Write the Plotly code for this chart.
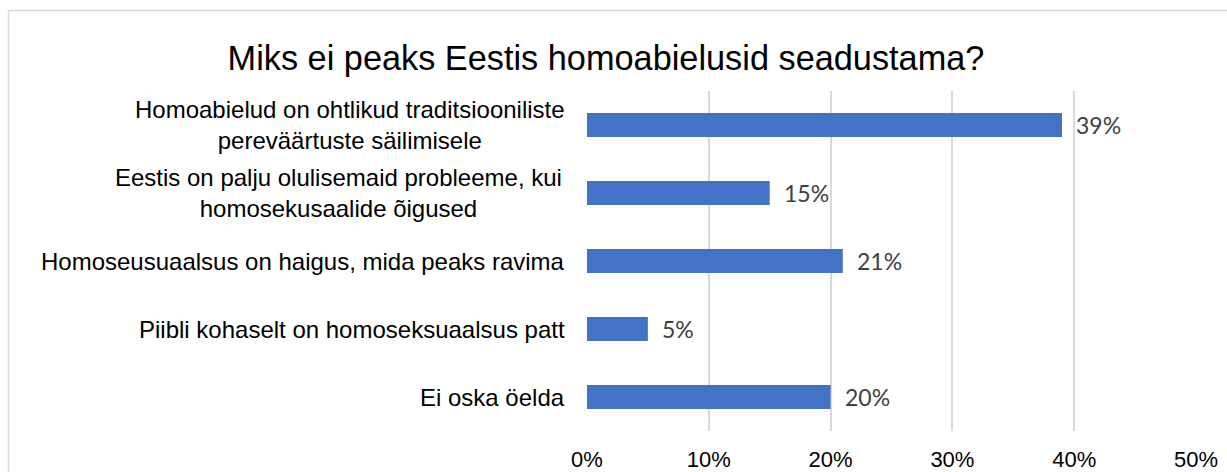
import plotly.graph_objects as go

categories = [
    "Homoabielud on ohtlikud traditsiooniliste<br>pereväärtuste säilimisele",
    "Eestis on palju olulisemaid probleeme, kui<br>homosekusaalide õigused",
    "Homoseusuaalsus on haigus, mida peaks ravima",
    "Piibli kohaselt on homoseksuaalsus patt",
    "Ei oska öelda",
]
values = [0.39, 0.15, 0.21, 0.05, 0.20]
value_labels = ["39%", "15%", "21%", "5%", "20%"]
tick_vals = [0, 0.1, 0.2, 0.3, 0.4, 0.5]
tick_text = ["0%", "10%", "20%", "30%", "40%", "50%"]
title_text = "Miks ei peaks Eestis homoabielusid seadustama?"

# layout: right edge (px) of each category label block
label_right_px = [566, 563, 566, 566, 566]

W, H = 1227, 472
ml, mr, mt, mb = 587, 31, 91, 41
pw = W - ml - mr
ph = H - mt - mb

fig = go.Figure()
fig.add_trace(go.Bar(
    x=values, y=categories, orientation="h",
    marker=dict(color="#4472C4", line=dict(width=0)),
    width=0.35, hoverinfo="skip",
))

label_font = dict(family="Liberation Sans, Arial, sans-serif", size=24, color="#000000")
annotations = []
for k, (c, v, t) in enumerate(zip(categories, values, value_labels)):
    annotations.append(dict(
        x=v, y=c, xref="x", yref="y", text=t, showarrow=False,
        xanchor="left", yanchor="middle", xshift=12,
        font=dict(family="Lato, sans-serif", size=23, color="#404040"),
    ))
    annotations.append(dict(
        x=(label_right_px[k] - ml) / pw, y=c, xref="paper", yref="y", text=c,
        showarrow=False, xanchor="right", yanchor="middle", align="center",
        borderpad=0, font=label_font,
    ))

fig.update_layout(
    width=W, height=H,
    margin=dict(l=ml, r=mr, t=mt, b=mb, autoexpand=False),
    paper_bgcolor="white", plot_bgcolor="white",
    showlegend=False,
    title=dict(
        text=title_text, x=606 / W, xanchor="center", y=1 - 57.5 / H, yanchor="middle",
        font=dict(family="Liberation Sans, Arial, sans-serif", size=34.3, color="#000000"),
    ),
    xaxis=dict(
        range=[0, 0.5], tickvals=tick_vals, ticktext=tick_text,
        showgrid=True, gridcolor="#d9d9d9", gridwidth=1.5,
        zeroline=False, showline=False, ticks="", ticklabelstandoff=13,
        tickfont=dict(family="Liberation Sans, Arial, sans-serif", size=22, color="#000000"),
        fixedrange=True, automargin=False,
    ),
    yaxis=dict(
        showticklabels=False, showgrid=False,
        zeroline=False, showline=False, ticks="", fixedrange=True,
        range=[4.5, -0.5], automargin=False,
    ),
    bargap=0.65,
    annotations=annotations,
    shapes=[dict(
        type="rect", xref="paper", yref="paper",
        x0=(8.5 - ml) / pw, x1=(W + 20 - ml) / pw,
        y0=-(mb + 20) / ph, y1=(ph + mt - 10.5) / ph,
        line=dict(color="#d9d9d9", width=1.5), fillcolor="rgba(0,0,0,0)", layer="below",
    )],
)

fig.write_html("out.html", config={"displayModeBar": False},
               post_script="document.body.style.margin='0';")
